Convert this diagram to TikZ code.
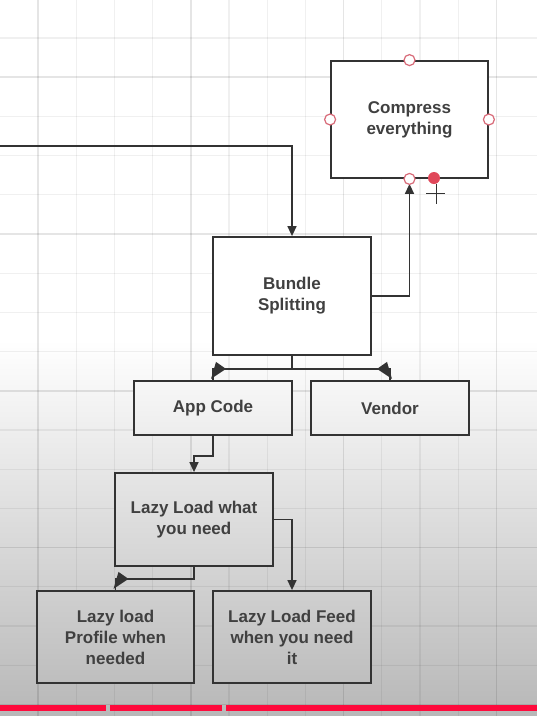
\documentclass[tikz,border=0pt]{standalone}
\usepackage{fontspec}
\setmainfont{Liberation Sans}
\usetikzlibrary{arrows.meta,calc}
\definecolor{boxline}{HTML}{333333}
\definecolor{txt}{HTML}{404040}
\definecolor{handle}{HTML}{D86A78}
\definecolor{reddot}{HTML}{E0485A}
\definecolor{barred}{HTML}{FF0A3C}
\definecolor{bgbottom}{gray}{0.72}
\definecolor{appTop}{gray}{0.969}
\definecolor{appBot}{gray}{0.929}
\definecolor{lazyTop}{gray}{0.901}
\definecolor{lazyBot}{gray}{0.832}
\definecolor{lowTop}{gray}{0.813}
\definecolor{lowBot}{gray}{0.745}
\tikzset{
  boxnode/.style={draw=boxline, line width=1.8pt, fill=white, inner sep=0pt,
    align=center, text=txt, font=\bfseries\fontsize{17}{21}\selectfont},
  conn/.style={draw=boxline, line width=1.5pt},
  arr/.style={conn, -{Triangle[length=10pt,width=9pt]}},
  handlecirc/.style={draw=handle, fill=white, line width=1.2pt, circle, minimum size=11pt, inner sep=0pt},
  cornertip/.style={fill=boxline},
  gridminor/.style={draw=black, draw opacity=0.06, line width=1.2pt},
  gridmajor/.style={draw=black, draw opacity=0.1, line width=1.5pt},
}
\begin{document}
\begin{tikzpicture}[x=1pt,y=-1pt]
\useasboundingbox (0,0) rectangle (537,716);
\fill[white] (0,0) rectangle (537,716);
\shade[top color=white, bottom color=bgbottom] (0,340) rectangle (537,716);
% grid
\foreach \k in {0,...,12}{
  \pgfmathtruncatemacro\m{mod(\k,4)}
  \ifnum\m=0
    \draw[gridmajor] ({38+\k*38.2},0) -- ({38+\k*38.2},716);
  \else
    \draw[gridminor] ({38+\k*38.2},0) -- ({38+\k*38.2},716);
  \fi
}
\foreach \k in {0,...,17}{
  \pgfmathtruncatemacro\m{mod(\k,4)}
  \ifnum\m=1
    \draw[gridmajor] (0,{38+\k*39.2}) -- (537,{38+\k*39.2});
  \else
    \draw[gridminor] (0,{38+\k*39.2}) -- (537,{38+\k*39.2});
  \fi
}
% boxes
\node[boxnode, minimum width=157pt, minimum height=117pt] (comp) at (409.5,119.5) {Compress\\everything};
\node[boxnode, minimum width=158pt, minimum height=118pt] (bundle) at (292,296) {Bundle\\Splitting};
\node[boxnode, top color=appTop, bottom color=appBot, minimum width=158pt, minimum height=54pt] (app) at (213,408) {App Code};
\node[boxnode, top color=appTop, bottom color=appBot, minimum width=158pt, minimum height=54pt] (vendor) at (390,408) {Vendor};
\node[boxnode, top color=lazyTop, bottom color=lazyBot, minimum width=158pt, minimum height=93pt] (lazy) at (194,519.5) {Lazy Load what\\you need};
\node[boxnode, top color=lowTop, bottom color=lowBot, minimum width=157pt, minimum height=92pt] (profile) at (115.5,637) {Lazy load\\Profile when\\needed};
\node[boxnode, top color=lowTop, bottom color=lowBot, minimum width=158pt, minimum height=92pt] (feed) at (292,637) {Lazy Load Feed\\when you need\\it};
% connectors
\coordinate (in) at (0,146);
\draw[arr] (in) -| (bundle.north);
\draw[arr, shorten >=5pt] (bundle.east) -| (comp.south);
\draw[conn] (bundle.south) -- ++(0,13) coordinate (split) -| (app.north);
\draw[conn] (split) -| (vendor.north);
\coordinate (cl) at (app.north |- split);
\coordinate (cr) at (vendor.north |- split);
\fill[cornertip] ($(cl)+(3,-7)$) -- ($(cl)+(-2,10)$) -- ($(cl)+(13,0)$) -- cycle;
\fill[cornertip] ($(cr)+(-3,-7)$) -- ($(cr)+(2,10)$) -- ($(cr)+(-13,0)$) -- cycle;
\draw[arr] (app.south) -- ++(0,20) -| (lazy.north);
\draw[arr] (lazy.east) -| (feed.north);
\draw[conn] (lazy.south) -- ++(0,12) coordinate (lsplit) -| (profile.north);
\coordinate (cp) at (profile.north |- lsplit);
\fill[cornertip] ($(cp)+(3,-7)$) -- ($(cp)+(-2,10)$) -- ($(cp)+(13,0)$) -- cycle;
% handles
\node[handlecirc] (hn) at (comp.north) {};
\node[handlecirc] (hw) at (comp.west) {};
\node[handlecirc] (he) at (comp.east) {};
\node[handlecirc] (hs) at (comp.south) {};
\fill[reddot] (434,178) circle (6pt);
\draw[boxline, line width=1pt] (426,193) -- (445,193);
\draw[boxline, line width=1pt] (436,184) -- (436,204);
% red bar
\fill[barred] (0,705) rectangle (106,711);
\fill[barred] (110,705) rectangle (222,711);
\fill[barred] (226,705) rectangle (537,711);
\end{tikzpicture}
\end{document}
